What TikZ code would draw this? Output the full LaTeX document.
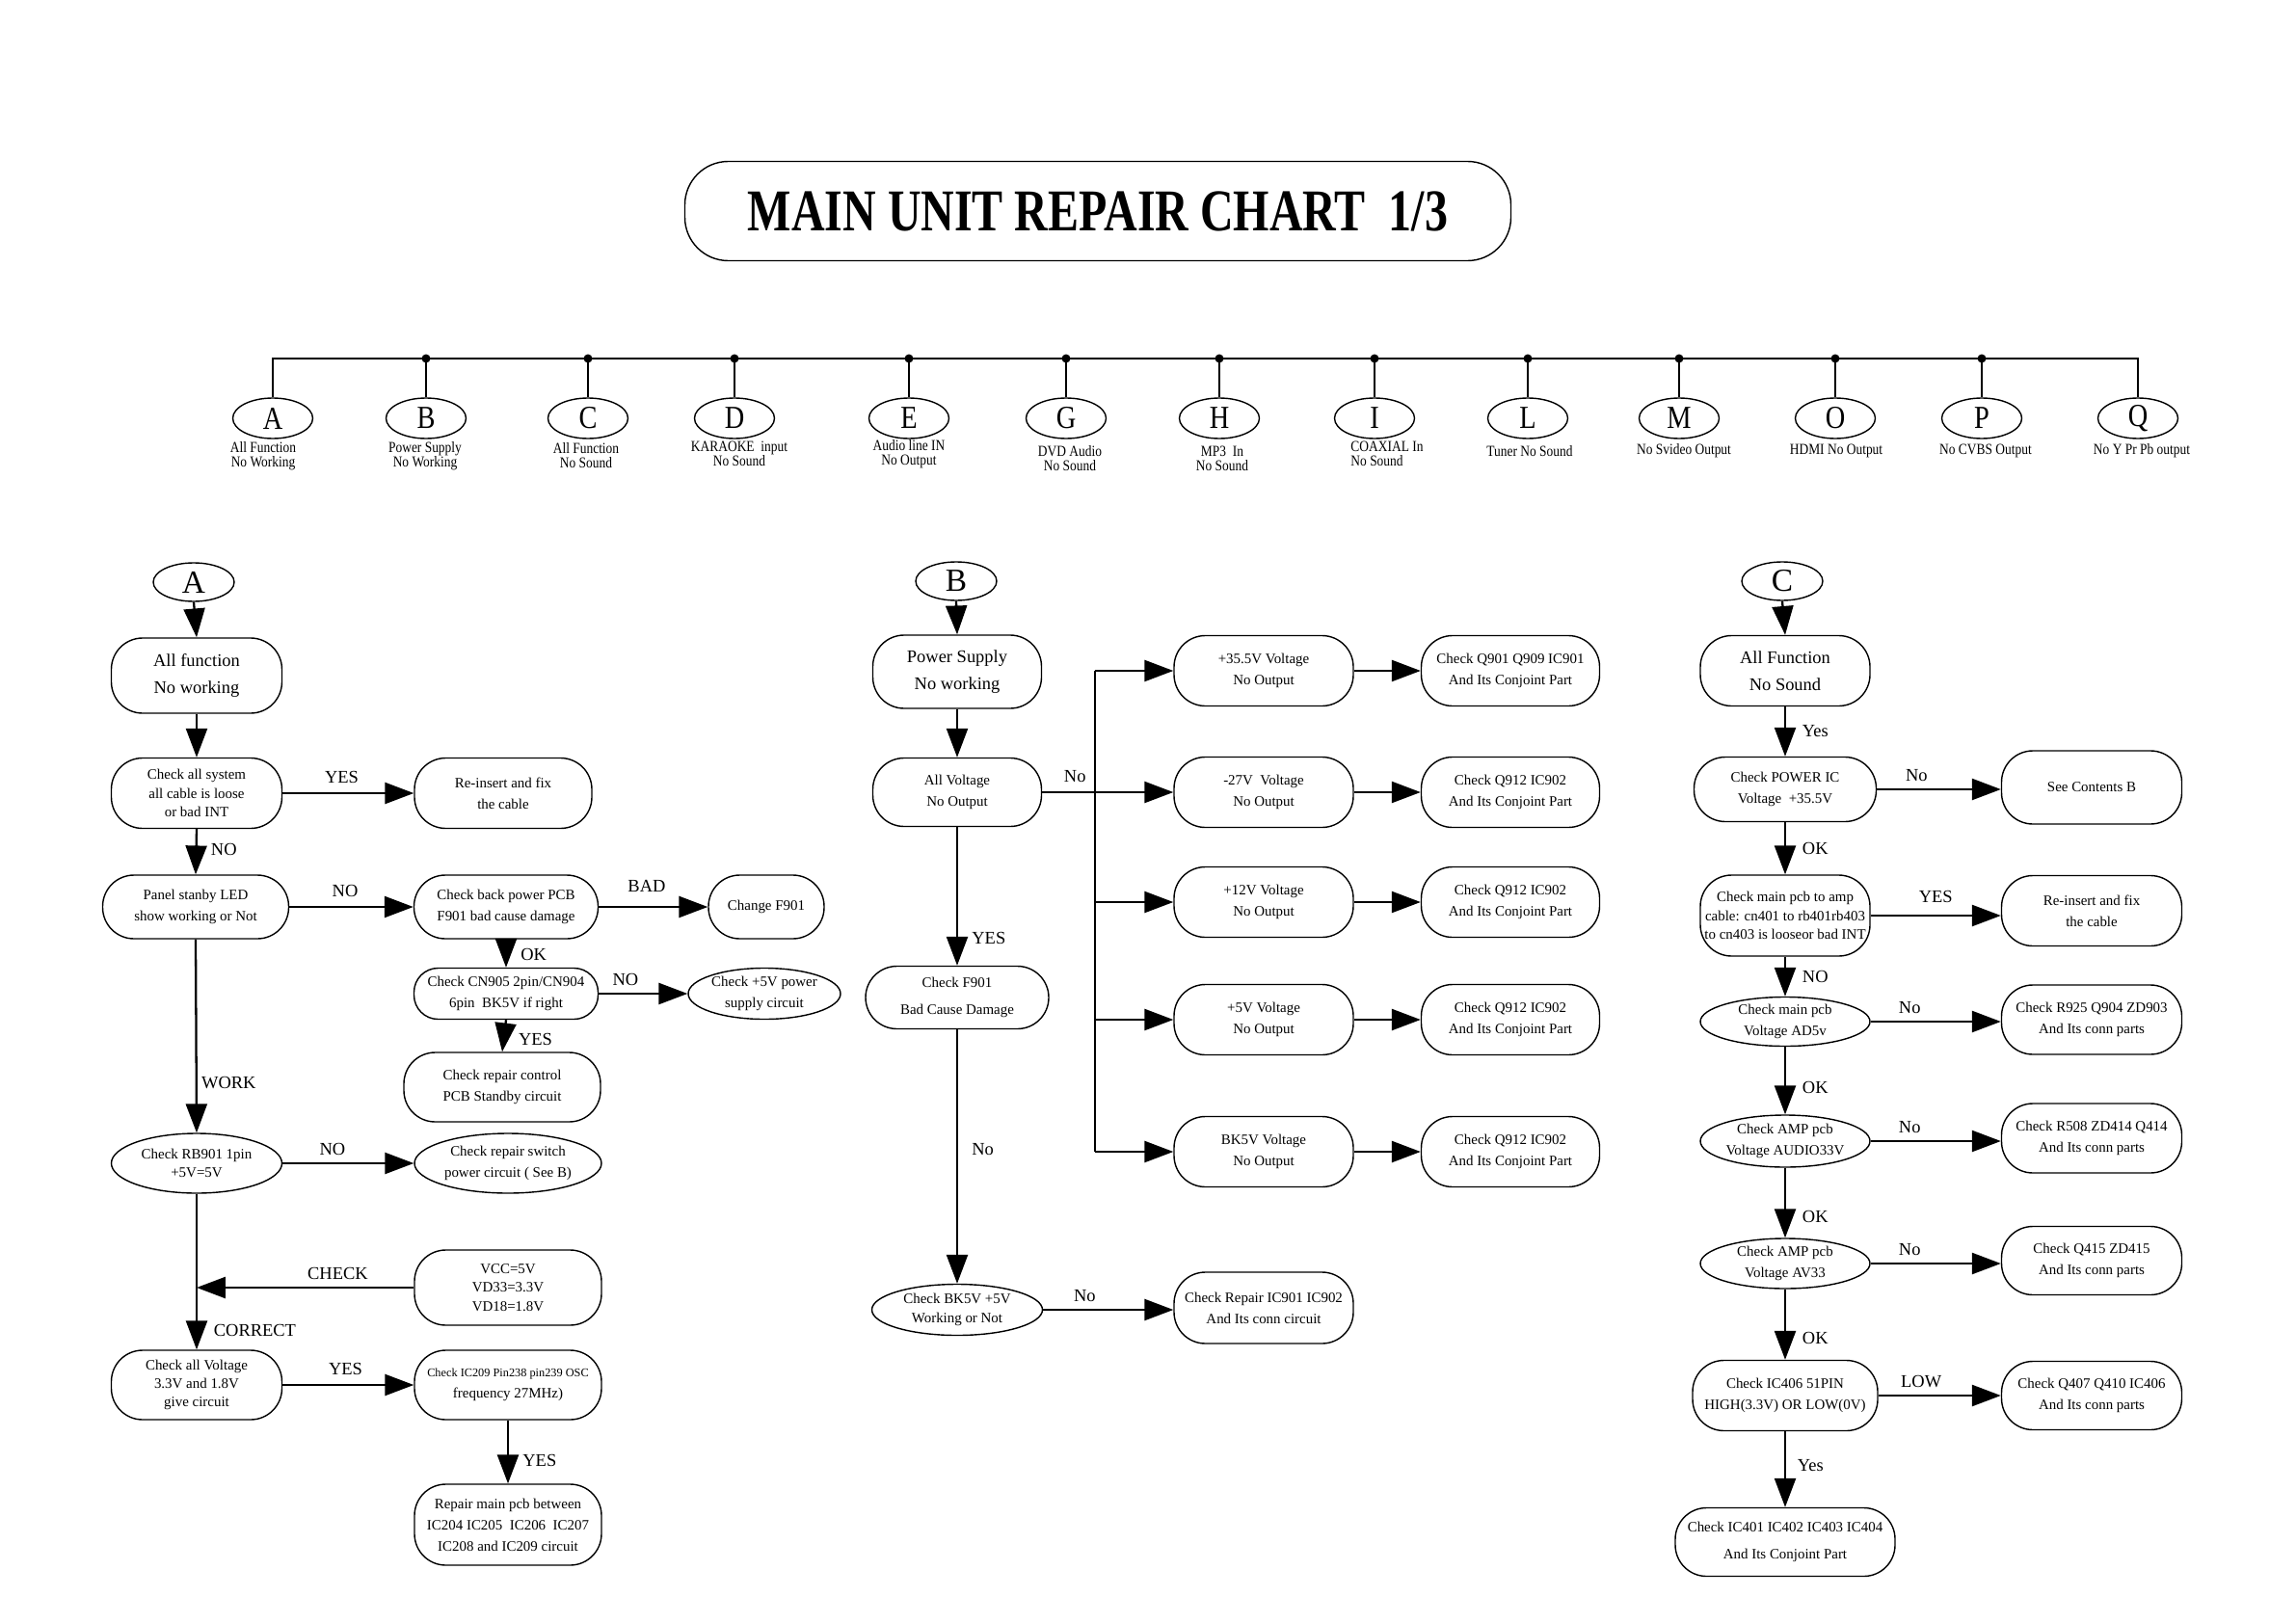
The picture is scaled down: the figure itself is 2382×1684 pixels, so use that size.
\documentclass[tikz,border=0pt]{standalone}
\usepackage{fontspec}
\setmainfont{Liberation Serif}
\newfontfamily\narrowfont{Liberation Serif}[FakeStretch=0.85]
\newfontfamily\titlefont{Liberation Serif}[FakeStretch=0.78]
\usetikzlibrary{arrows.meta, positioning, shapes.geometric}
\newcommand\nodefs{\fontsize{8.5}{12.5}\selectfont}
\newcommand\headfs{\fontsize{10.5}{16}\selectfont}
\tikzset{
  rbox/.style = {rectangle, draw=black, rounded corners=6.5mm, align=center, font=\nodefs, inner sep=0pt, line width=0.8pt},
  sbox/.style = {rbox, rounded corners=5mm},
  ebox/.style = {ellipse, draw=black, align=center, font=\nodefs, inner sep=0pt, line width=0.8pt},
  hbox/.style = {rbox, font=\headfs},
  tight/.style = {font=\fontsize{8.5}{11}\selectfont},
  loose/.style = {font=\fontsize{8.5}{15.5}\selectfont},
  sz/.style 2 args = {minimum width=#1*0.2mm, minimum height=#2*0.2mm},
  letter/.style = {ellipse, draw=black, line width=0.8pt, minimum width=83*0.2mm, minimum height=42*0.2mm, inner sep=0pt, font=\narrowfont\fontsize{19}{19}\selectfont},
  hdr/.style = {letter, minimum width=84*0.2mm, minimum height=40*0.2mm, font=\fontsize{19}{19}\selectfont},
  tlab/.style = {font=\narrowfont\fontsize{9}{8.6}\selectfont, align=center, inner sep=0pt},
  lbl/.style = {font=\fontsize{10.5}{12}\selectfont, inner sep=1pt},
  conn/.style = {line width=1.3pt},
  arr/.style = {-{Triangle[length=17pt,width=12.5pt]}, line width=1.3pt}
}

\begin{document}
\begin{tikzpicture}[x=0.2mm, y=-0.2mm]
\useasboundingbox (0,0) rectangle (2382,1684);

% ----- TITLE -----
\node[rectangle, draw=black, rounded corners=9mm, line width=0.8pt, sz={857}{103},
      font=\titlefont\bfseries\fontsize{35}{40}\selectfont] (title) at (1139,219) {MAIN UNIT REPAIR CHART\ \ 1/3};

% ----- INDEX ROW -----
\node[letter] (tA) at (283,434) {A};
\node[letter] (tB) at (442,434) {B};
\node[letter] (tC) at (610,434) {C};
\node[letter] (tD) at (762,434) {D};
\node[letter] (tE) at (943,434) {E};
\node[letter] (tG) at (1106,434) {G};
\node[letter] (tH) at (1265,434) {H};
\node[letter] (tI) at (1426,434) {I};
\node[letter] (tL) at (1585,434) {L};
\node[letter] (tM) at (1742,434) {M};
\node[letter] (tO) at (1904,434) {O};
\node[letter] (tP) at (2056,434) {P};
\node[letter] (tQ) at (2218,434) {Q};

\node[tlab] (lA) at (273,473) {All Function\\No Working};
\node[tlab] (lB) at (441,473) {Power Supply\\No Working};
\node[tlab] (lC) at (608,473) {All Function\\No Sound};
\node[tlab] (lD) at (767,471) {KARAOKE\ \ input\\No Sound};
\node[tlab] (lE) at (943,471) {Audio line IN\\No Output};
\node[tlab] (lG) at (1110,476) {DVD Audio\\No Sound};
\node[tlab] (lH) at (1268,476) {MP3\ \ In\\No Sound};
\node[tlab, align=left] (lI) at (1439,471) {COAXIAL In\\No Sound};
\node[tlab] (lL) at (1587,468) {Tuner No Sound};
\node[tlab] (lM) at (1747,468) {No Svideo Output};
\node[tlab] (lO) at (1905,468) {HDMI No Output};
\node[tlab] (lP) at (2060,468) {No CVBS Output};
\node[tlab] (lQ) at (2222,468) {No Y Pr Pb output};

\coordinate (busL) at (283,372);
\coordinate (busR) at (2218,372);
\draw[line width=1.6pt] (tA.north) -- (busL) -- (busR) -- (tQ.north);
\draw[conn] (busL -| tB.north) -- (tB.north);
\draw[conn] (busL -| tC.north) -- (tC.north);
\draw[conn] (busL -| tD.north) -- (tD.north);
\draw[conn] (busL -| tE.north) -- (tE.north);
\draw[conn] (busL -| tG.north) -- (tG.north);
\draw[conn] (busL -| tH.north) -- (tH.north);
\draw[conn] (busL -| tI.north) -- (tI.north);
\draw[conn] (busL -| tL.north) -- (tL.north);
\draw[conn] (busL -| tM.north) -- (tM.north);
\draw[conn] (busL -| tO.north) -- (tO.north);
\draw[conn] (busL -| tP.north) -- (tP.north);
\fill (busL -| tB.north) circle (0.9mm);
\fill (busL -| tC.north) circle (0.9mm);
\fill (busL -| tD.north) circle (0.9mm);
\fill (busL -| tE.north) circle (0.9mm);
\fill (busL -| tG.north) circle (0.9mm);
\fill (busL -| tH.north) circle (0.9mm);
\fill (busL -| tI.north) circle (0.9mm);
\fill (busL -| tL.north) circle (0.9mm);
\fill (busL -| tM.north) circle (0.9mm);
\fill (busL -| tO.north) circle (0.9mm);
\fill (busL -| tP.north) circle (0.9mm);

% ----- CHART A -----
\node[hdr] (hA) at (201,604) {A};
\node[hbox, sz={177}{78}] (a1) at (204,701) {All function\\No working};
\node[rbox, tight, sz={177}{73}] (a2) at (204,823) {Check all system\\all cable is loose\\or bad INT};
\node[rbox, sz={184}{73}] (a3) at (522,823) {Re-insert and fix\\the cable};
\node[rbox, sz={193}{66}] (a4) at (203,941) {Panel stanby LED\\show working or Not};
\node[rbox, sz={191}{66}] (a5) at (525,941) {Check back power PCB\\F901 bad cause damage};
\node[rbox, sz={120}{66}] (a6) at (795,941) {Change F901};
\node[sbox, sz={191}{53}] (a7) at (525,1031) {Check CN905 2pin/CN904\\6pin\ \ BK5V if right};
\node[ebox, sz={158}{53}] (a8) at (793,1031) {Check +5V power\\supply circuit};
\node[rbox, sz={204}{72}] (a9) at (521,1128) {Check repair control\\PCB Standby circuit};
\node[ebox, tight, sz={177}{62}] (a10) at (204,1207) {Check RB901 1pin\\+5V=5V};
\node[ebox, sz={194}{62}] (a11) at (527,1207) {Check repair switch\\power circuit ( See B)};
\node[rbox, tight, sz={194}{78}] (a12) at (527,1336) {VCC=5V\\VD33=3.3V\\VD18=1.8V};
\node[rbox, tight, sz={177}{72}] (a13) at (204,1437) {Check all Voltage\\3.3V and 1.8V\\give circuit};
\node[rbox, sz={194}{72}] (a14) at (527,1437) {{\fontsize{7}{8}\selectfont Check IC209 Pin238 pin239 OSC}\\frequency 27MHz)};
\node[rbox, sz={194}{84}] (a15) at (527,1582) {Repair main pcb between\\IC204 IC205\ \ IC206\ \ IC207\\IC208 and IC209 circuit};

% ----- CHART B -----
\node[hdr] (hB) at (992,603) {B};
\node[hbox, sz={175}{76}] (b1) at (993,697) {Power Supply\\No working};
\node[rbox, sz={175}{71}] (b2) at (993,822) {All Voltage\\No Output};
\node[rbox, loose, sz={190}{65}] (b3) at (993,1035) {Check F901\\Bad Cause Damage};
\node[ebox, tight, sz={177}{53}] (b4) at (993,1359) {Check BK5V +5V\\Working or Not};
\node[rbox, sz={186}{74}] (b5) at (1311,1357) {Check Repair IC901 IC902\\And Its conn circuit};

\node[rbox, sz={186}{73}] (v1) at (1311,696) {+35.5V Voltage\\No Output};
\node[rbox, sz={186}{73}] (v2) at (1311,822) {-27V\ \ Voltage\\No Output};
\node[rbox, sz={186}{73}] (v3) at (1311,936) {+12V Voltage\\No Output};
\node[rbox, sz={186}{73}] (v4) at (1311,1058) {+5V Voltage\\No Output};
\node[rbox, sz={186}{73}] (v5) at (1311,1195) {BK5V Voltage\\No Output};

\node[rbox, sz={185}{73}] (q1) at (1567,696) {Check Q901 Q909 IC901\\And Its Conjoint Part};
\node[rbox, sz={185}{73}] (q2) at (1567,822) {Check Q912 IC902\\And Its Conjoint Part};
\node[rbox, sz={185}{73}] (q3) at (1567,936) {Check Q912 IC902\\And Its Conjoint Part};
\node[rbox, sz={185}{73}] (q4) at (1567,1058) {Check Q912 IC902\\And Its Conjoint Part};
\node[rbox, sz={185}{73}] (q5) at (1567,1195) {Check Q912 IC902\\And Its Conjoint Part};

\coordinate (bT) at (1136,696);
\coordinate (bB) at (1136,1195);

% ----- CHART C -----
\node[hdr] (hC) at (1849,603) {C};
\node[hbox, sz={176}{73}] (k1) at (1852,696) {All Function\\No Sound};
\node[rbox, sz={189}{67}] (k2) at (1852,819) {Check POWER IC\\Voltage\ \ +35.5V};
\node[rbox, sz={187}{76}] (k3) at (2170,817) {See Contents B};
\node[rbox, tight, sz={176}{84}] (k4) at (1852,950) {Check main pcb to amp\\cable: cn401 to rb401rb403\\to cn403 is looseor bad INT};
\node[rbox, sz={187}{73}] (k5) at (2170,945) {Re-insert and fix\\the cable};
\node[ebox, sz={176}{51}] (k6) at (1852,1060) {Check main pcb\\Voltage AD5v};
\node[rbox, sz={187}{72}] (k7) at (2170,1058) {Check R925 Q904 ZD903\\And Its conn parts};
\node[ebox, sz={176}{54}] (k8) at (1852,1184) {Check AMP pcb\\Voltage AUDIO33V};
\node[rbox, sz={187}{72}] (k9) at (2170,1181) {Check R508 ZD414 Q414\\And Its conn parts};
\node[ebox, sz={176}{52}] (k10) at (1852,1311) {Check AMP pcb\\Voltage AV33};
\node[rbox, sz={187}{71}] (k11) at (2170,1308) {Check Q415 ZD415\\And Its conn parts};
\node[rbox, sz={192}{73}] (k12) at (1852,1448) {Check IC406 51PIN\\HIGH(3.3V) OR LOW(0V)};
\node[rbox, sz={187}{71}] (k13) at (2170,1448) {Check Q407 Q410 IC406\\And Its conn parts};
\node[rbox, loose, sz={228}{71}] (k14) at (1852,1600) {Check IC401 IC402 IC403 IC404\\And Its Conjoint Part};

% ----- ARROWS A -----
\draw[arr] (hA.south) -- (a1.north);
\draw[arr] (a1.south) -- (a2.north);
\draw[arr] (a2.east) -- node[lbl, above=1.5mm, pos=0.45] {YES} (a3.west);
\draw[arr] (a2.south) -- node[lbl, right=2.5mm, pos=0.45] {NO} (a4.north);
\draw[arr] (a4.east) -- node[lbl, above=1.5mm, pos=0.45] {NO} (a5.west);
\draw[arr] (a5.east) -- node[lbl, above=2.5mm, pos=0.44] {BAD} (a6.west);
\draw[arr] (a5.south) -- node[lbl, right=2.5mm, pos=0.55] {OK} (a7.north);
\draw[arr] (a7.east) -- node[lbl, above=1mm, pos=0.3] {NO} (a8.west);
\draw[arr] (a7.south) -- node[lbl, right=2.5mm, pos=0.6] {YES} (a9.north);
\draw[arr] (a4.south) -- node[lbl, right=0.5mm, pos=0.74] {WORK} (a10.north);
\draw[arr] (a10.east) -- node[lbl, above=1mm, pos=0.38] {NO} (a11.west);
\draw[arr] (a12.west) -- node[lbl, above=1mm, pos=0.35] {CHECK} (a12.west -| a10.south);
\draw[arr] (a10.south) -- node[lbl, right=3mm, pos=0.88] {CORRECT} (a13.north);
\draw[arr] (a13.east) -- node[lbl, above=1.5mm, pos=0.48] {YES} (a14.west);
\draw[arr] (a14.south) -- node[lbl, right=2.5mm, pos=0.64] {YES} (a15.north);

% ----- ARROWS B -----
\draw[arr] (hB.south) -- (b1.north);
\draw[arr] (b1.south) -- (b2.north);
\draw[arr] (b2.east) -- node[lbl, above=1.5mm, pos=0.25] {No} (v2.west);
\draw[conn] (bT) -- (bB);
\draw[arr] (bT) -- (v1.west);
\draw[arr] (bT |- v3.west) -- (v3.west);
\draw[arr] (bT |- v4.west) -- (v4.west);
\draw[arr] (bB) -- (v5.west);
\draw[arr] (v1.east) -- (q1.west);
\draw[arr] (v2.east) -- (q2.west);
\draw[arr] (v3.east) -- (q3.west);
\draw[arr] (v4.east) -- (q4.west);
\draw[arr] (v5.east) -- (q5.west);
\draw[arr] (b2.south) -- node[lbl, right=2.5mm, pos=0.8] {YES} (b3.north);
\draw[arr] (b3.south) -- node[lbl, right=2.5mm, pos=0.47] {No} (b4.north);
\draw[arr] (b4.east) -- node[lbl, above=1mm, pos=0.32] {No} (b4.east -| b5.west);

% ----- ARROWS C -----
\draw[arr] (hC.south) -- (k1.north);
\draw[arr] (k1.south) -- node[lbl, right=3mm, pos=0.5] {Yes} (k2.north);
\draw[arr] (k2.east) -- node[lbl, above=1mm, pos=0.32] {No} (k2.east -| k3.west);
\draw[arr] (k2.south) -- node[lbl, right=3mm, pos=0.5] {OK} (k4.north);
\draw[arr] (k4.east) -- node[lbl, above=2mm, pos=0.5] {YES} (k4.east -| k5.west);
\draw[arr] (k4.south) -- node[lbl, right=3mm, pos=0.5] {NO} (k6.north);
\draw[arr] (k6.east) -- node[lbl, above=1mm, pos=0.3] {No} (k6.east -| k7.west);
\draw[arr] (k6.south) -- node[lbl, right=3mm, pos=0.6] {OK} (k8.north);
\draw[arr] (k8.east) -- node[lbl, above=1mm, pos=0.3] {No} (k8.east -| k9.west);
\draw[arr] (k8.south) -- node[lbl, right=3mm, pos=0.7] {OK} (k10.north);
\draw[arr] (k10.east) -- node[lbl, above=1mm, pos=0.3] {No} (k10.east -| k11.west);
\draw[arr] (k10.south) -- node[lbl, right=3mm, pos=0.7] {OK} (k12.north);
\draw[arr] (k12.east) -- node[lbl, above=1mm, pos=0.35] {LOW} (k12.east -| k13.west);
\draw[arr] (k12.south) -- node[lbl, right=2mm, pos=0.45] {Yes} (k14.north);

\end{tikzpicture}
\end{document}
